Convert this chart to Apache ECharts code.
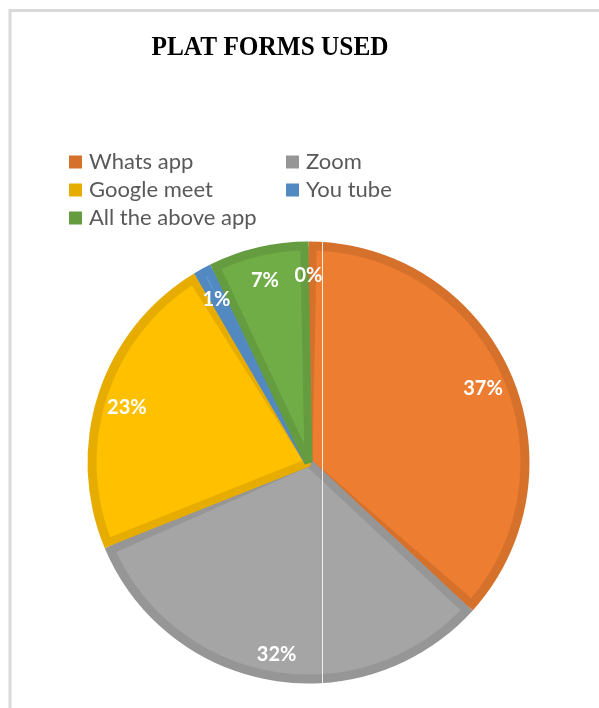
<!DOCTYPE html>
<html>
<head>
<meta charset="utf-8">
<style>
html,body{margin:0;padding:0;background:#fff;}
#chart{width:599px;height:708px;}
</style>
<script src="https://cdn.jsdelivr.net/npm/echarts@6/dist/echarts.min.js"></script>
</head>
<body>
<div id="chart"></div>
<script>
// ---- data ----
const categories = ['Whats app', 'Zoom', 'Google meet', 'You tube', 'All the above app'];
const values = [55, 48, 34, 2, 11];
const extraCategory = '';   // unlabelled empty category shown as 0%
const extraValue = 0;
const fillColors = ['#ED7D31', '#A5A5A5', '#FFC000', '#5B9BD5', '#70AD47'];
const borderColors = ['#D6712C', '#969696', '#E6AD00', '#5289C0', '#659C40'];
const titleText = 'PLAT FORMS USED';

const chart = echarts.init(document.getElementById('chart'), null, {renderer: 'canvas'});

const R = 221;
const center = [308.5, 462.5];

const outerData = categories.map((c, i) => ({
  name: c, value: values[i], itemStyle: {color: borderColors[i]}
}));
const innerData = categories.map((c, i) => ({
  name: c, value: values[i], itemStyle: {color: fillColors[i], borderColor: borderColors[i]}
}));
const labelData = categories.map((c, i) => ({name: c, value: values[i]}))
  .concat([{name: extraCategory, value: extraValue}]);

chart.setOption({
  animation: false,
  backgroundColor: '#fff',
  legend: {
    data: categories,
    left: 69,
    top: 151,
    width: 460,
    orient: 'horizontal',
    icon: 'rect',
    itemWidth: 13,
    itemHeight: 13,
    itemGap: 6,
    padding: 0,
    selectedMode: false,
    textStyle: {fontFamily: 'Lato, "Open Sans", sans-serif', fontSize: 22, color: '#595959', width: 191, padding: [0, 0, 0, 2], lineHeight: 20},
  },
  graphic: [
    {type: 'rect', shape: {x: 10, y: 10.5, width: 800, height: 900}, style: {fill: 'none', stroke: '#dadada', lineWidth: 3}, z: 0, silent: true},
    {type: 'text', x: 270, y: 47.5, scaleX: 0.92, style: {text: titleText, textAlign: 'center', textVerticalAlign: 'middle',
      font: 'bold 27.5px "Liberation Serif", "Times New Roman", serif', fill: '#000'}, z: 10, silent: true},
    {type: 'line', shape: {x1: 322.5, y1: 242, x2: 322.5, y2: 684}, style: {stroke: 'rgba(255,255,255,0.85)', lineWidth: 1}, z: 100, silent: true}
  ],
  series: [
    {
      type: 'pie',
      center: center,
      radius: [0, R],
      startAngle: 90,
      clockwise: true,
      silent: true,
      label: {show: false},
      labelLine: {show: false},
      emphasis: {disabled: true},
      data: outerData
    },
    {
      type: 'pie',
      center: center,
      radius: [0, R - 5],
      startAngle: 90,
      clockwise: true,
      silent: true,
      padAngle: 2.2,
      label: {show: false},
      labelLine: {show: false},
      itemStyle: {borderWidth: 8, borderJoin: 'bevel'},
      emphasis: {disabled: true},
      data: innerData
    },
    {
      type: 'pie',
      center: [center[0], center[1] + 4],
      radius: [155, R],
      startAngle: 90,
      clockwise: true,
      silent: true,
      avoidLabelOverlap: false,
      percentPrecision: 0,
      itemStyle: {color: 'rgba(0,0,0,0)', borderWidth: 0},
      emphasis: {disabled: true},
      labelLine: {show: false},
      label: {
        show: true,
        position: 'inside',
        formatter: '{d}%',
        color: '#fff',
        fontFamily: 'Lato, "Open Sans", sans-serif',
        fontWeight: 'bold',
        fontSize: 20
      },
      data: labelData
    }
  ]
});
</script>
</body>
</html>
